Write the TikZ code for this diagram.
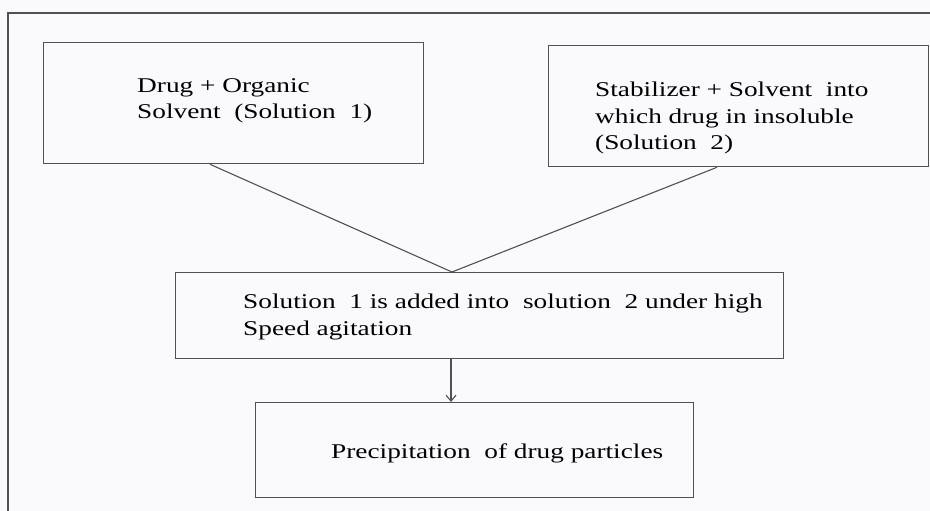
\documentclass[tikz,border=0pt]{standalone}
\usepackage{fontspec}
\setmainfont{Liberation Serif}[FakeStretch=1.3]
\usetikzlibrary{arrows.meta}
\definecolor{paper}{RGB}{250,250,253}
\definecolor{ink}{RGB}{80,80,85}
\begin{document}
\begin{tikzpicture}[x=1pt,y=-1pt,
  boxstyle/.style={draw=ink, line width=1.3pt, rectangle, inner sep=0pt, anchor=north west},
  txt/.style={anchor=west, align=left, inner sep=0pt, text=black,
    font=\fontsize{21}{26.5}\selectfont},
  link/.style={draw=ink, line width=1.1pt}]
\fill[paper] (0,0) rectangle (930,511);
\useasboundingbox (0,0) rectangle (930,511);
% outer frame (top and left edges)
\draw[link, line width=1.3pt] (930,13) -- (8,13) -- (8,511);
% boxes
\node[boxstyle, minimum width=380pt, minimum height=121pt] (b1) at (43,42) {};
\node[boxstyle, minimum width=380pt, minimum height=121pt] (b2) at (548,45) {};
\node[boxstyle, minimum width=608pt, minimum height=86pt] (b3) at (175,272) {};
\node[boxstyle, minimum width=438pt, minimum height=95pt] (b4) at (255,402) {};
% texts
\node[txt] (t1) at (137,101) {Drug + Organic\\Solvent\ \ (Solution\ \ 1)};
\node[txt] (t2) at (595,118) {Stabilizer\ + Solvent\ \ into\\which drug in insoluble\\(Solution\ \ 2)};
\node[txt] (t3) at (243,317) {Solution\ \ 1\ is added into\ \ solution\ \ 2\ under high\\Speed agitation};
\node[txt] (t4) at (331,453) {Precipitation\ \ of drug particles};
% connectors
\coordinate (p1) at (210,0);
\coordinate (p2) at (717,0);
\coordinate (apex) at (452,0);
\coordinate (ar) at (451,0);
\draw[link] (p1 |- b1.south) -- (apex |- b3.north) -- (p2 |- b2.south);
\draw[link, -{Straight Barb[length=6pt,width=10pt]}] (ar |- b3.south) -- (ar |- b4.north);
\end{tikzpicture}
\end{document}
